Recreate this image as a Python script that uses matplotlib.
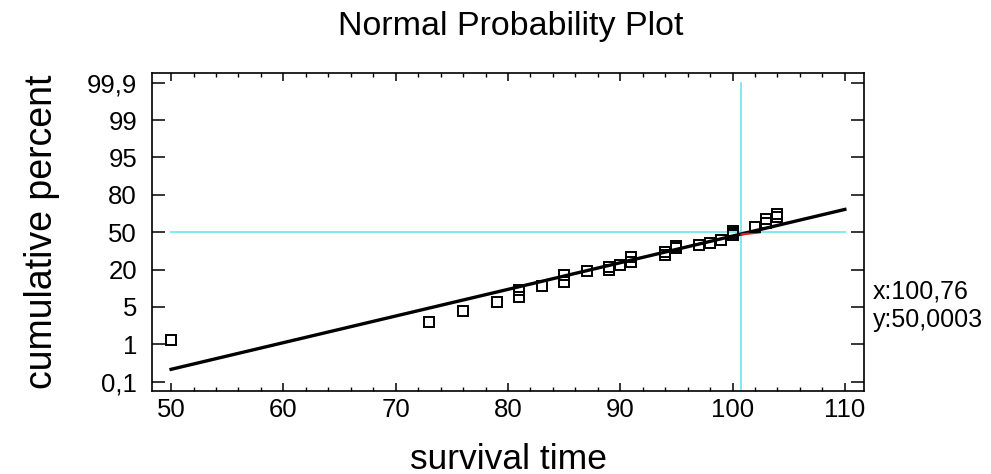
"""
Normal probability plot of survival time (Statgraphics-style layout).
The y axis uses equally spaced probability labels, so percent values are
mapped to label positions by interpolating in z between the labelled ticks.
"""
from statistics import NormalDist

import matplotlib.pyplot as plt
import numpy as np

# ---- data -----------------------------------------------------------------
survival = [50, 73, 76, 79, 81, 81, 83, 85, 85, 87, 89, 89, 90, 91, 91,
            94, 94, 95, 95, 97, 98, 99, 100, 100, 100, 102, 103, 103, 104, 104]
cum_pct = [1.20, 2.76, 4.34, 6.08, 7.66, 9.97, 11.76, 13.42, 16.80, 19.33,
           20.0, 21.94, 22.95, 25.3, 28.93, 30.38, 32.78, 35.87, 37.77, 38.74,
           40.03, 42.99, 47.32, 49.33, 51.34, 54.69, 58.0, 61.58, 63.5, 66.3]

fit_x = [50, 110]
fit_pct = [0.227, 69.6]
red_x = [100.8, 102.4]
red_pct = [48.0, 49.8]

cursor_x = 100.76
cursor_y = 50.0003

pct_ticks = [0.1, 1, 5, 20, 50, 80, 95, 99, 99.9]
pct_labels = ['0,1', '1', '5', '20', '50', '80', '95', '99', '99,9']
x_ticks = [50, 60, 70, 80, 90, 100, 110]

ND = NormalDist()
Z_TICKS = np.array([ND.inv_cdf(p / 100) for p in pct_ticks])
IDX = np.arange(len(pct_ticks), dtype=float)


def pos(p):
    z = np.array([ND.inv_cdf(v / 100) for v in np.atleast_1d(p)])
    return np.interp(z, Z_TICKS, IDX)


CYAN = '#74e8ee'
plt.rcParams['font.family'] = ['Liberation Sans', 'DejaVu Sans']

fig = plt.figure(figsize=(9.91, 4.74), dpi=100)
ax = fig.add_axes([0.1537, 0.1751, 0.7181, 0.6709])

ax.plot([cursor_x, cursor_x], [-1, pos(99.9)[0]], color=CYAN, lw=1.3, zorder=1)
ax.plot(fit_x, [pos(cursor_y)[0]] * 2, color=CYAN, lw=1.3, zorder=1)
ax.plot(fit_x, pos(fit_pct), color='black', lw=2.4, zorder=2)
ax.plot(red_x, pos(red_pct), color='#e02020', lw=1.6, zorder=3)
ax.plot(survival, pos(cum_pct), ls='none', marker='s', ms=6.5,
        mfc='none', mec='black', mew=1.4, zorder=4)

ax.set_xlim(48.33, 111.7)
ax.set_ylim(-0.25, 8.26)
ax.set_xticks(x_ticks)
ax.set_xticks(np.arange(50, 111, 2), minor=True)
ax.set_yticks(IDX)
ax.set_yticklabels(pct_labels)

ax.tick_params(axis='both', which='both', direction='in', top=True,
               right=True, labelsize=18.5, color='black')
ax.tick_params(axis='y', which='major', length=9.5, width=1.1, pad=11)
ax.tick_params(axis='x', which='major', length=6, width=1.1, pad=5)
ax.tick_params(axis='x', which='minor', length=3, width=1.0)
for s in ax.spines.values():
    s.set_linewidth(1.2)

ax.set_xlabel('survival time', fontsize=25.5, labelpad=15)
ax.set_ylabel('cumulative percent', fontsize=27, labelpad=19)
fig.text(0.515, 0.945, 'Normal Probability Plot', fontsize=24.5,
         ha='center', va='center')

fig.text(0.881, 0.384, 'x:100,76', fontsize=18, va='center')
fig.text(0.881, 0.325, 'y:50,0003', fontsize=18, va='center')

fig.savefig('out.png', dpi=100)
